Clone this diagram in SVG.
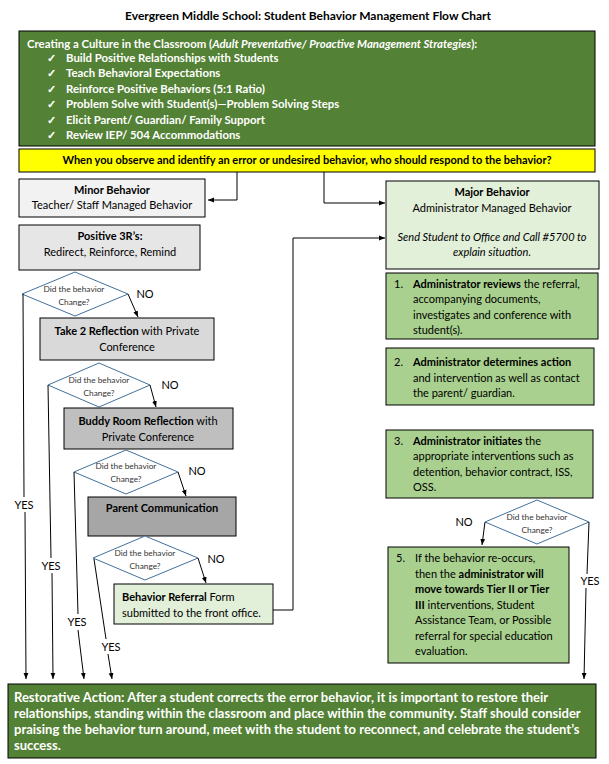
<svg xmlns="http://www.w3.org/2000/svg" width="609" height="764" viewBox="0 0 609 764">
<style>
text{font-family:Lato,"Liberation Sans",sans-serif;font-size:11px;fill:#000}
.b{font-weight:bold}
.w{fill:#fff;font-weight:bold}
.g{font-size:11.4px}
.r{font-size:13px}
.i{font-style:italic}
.c{text-anchor:middle}
.sm{font-size:8.3px;fill:#333}
.box{stroke:#000;stroke-width:1}
.dia{fill:#fff;stroke:#41719C;stroke-width:1}
.ln{fill:none;stroke:#000;stroke-width:1}
</style>
<defs>
<marker id="ah" viewBox="0 0 10 10" refX="10" refY="5" markerWidth="6" markerHeight="6" orient="auto"><path d="M0,1 L10,5 L0,9 z" fill="#000"/></marker>
</defs>
<rect width="609" height="764" fill="#fff"/>
<text id="title" class="b c" x="308" y="20" style="font-size:12px">Evergreen Middle School: Student Behavior Management Flow Chart</text>

<g id="culture">
<rect class="box" x="19" y="31" width="576" height="115" fill="#538135"/>
<text class="w g" x="27" y="48">Creating a Culture in the Classroom (<tspan class="i">Adult Preventative/ Proactive Management Strategies</tspan>):</text>
<text class="w g" x="47" y="62">✓</text><text class="w g" x="66" y="62">Build Positive Relationships with Students</text>
<text class="w g" x="47" y="77">✓</text><text class="w g" x="66" y="77">Teach Behavioral Expectations</text>
<text class="w g" x="47" y="93">✓</text><text class="w g" x="66" y="93">Reinforce Positive Behaviors (5:1 Ratio)</text>
<text class="w g" x="47" y="108">✓</text><text class="w g" x="66" y="108">Problem Solve with Student(s)—Problem Solving Steps</text>
<text class="w g" x="47" y="124">✓</text><text class="w g" x="66" y="124">Elicit Parent/ Guardian/ Family Support</text>
<text class="w g" x="47" y="139">✓</text><text class="w g" x="66" y="139">Review IEP/ 504 Accommodations</text>
</g>

<g id="question">
<rect class="box" x="19" y="149" width="576" height="23" fill="#FFFF00"/>
<text class="b c" x="307" y="164">When you observe and identify an error or undesired behavior, who should respond to the behavior?</text>
</g>

<g id="minor">
<rect class="box" x="19" y="179" width="186" height="38" fill="#F2F2F2"/>
<text class="b c" x="112" y="194">Minor Behavior</text>
<text class="c" x="112" y="209">Teacher/ Staff Managed Behavior</text>
</g>

<g id="positive3r">
<rect class="box" x="19" y="225" width="181" height="45" fill="#E7E6E6"/>
<text class="b c" x="110" y="240">Positive 3R’s:</text>
<text class="c" x="110" y="256">Redirect, Reinforce, Remind</text>
</g>

<g id="d1">
<polygon class="dia" points="75,272 128,294 75,316 22,294"/>
<text class="sm c" x="74" y="292">Did the behavior</text>
<text class="sm c" x="74" y="305">Change?</text>
</g>

<g id="take2">
<rect class="box" x="40" y="318" width="174" height="42" fill="#D9D9D9"/>
<text class="c" x="127" y="335"><tspan class="b">Take 2 Reflection</tspan> with Private</text>
<text class="c" x="127" y="351">Conference</text>
</g>

<g id="d2">
<polygon class="dia" points="99,363 150,385 99,407 48,385"/>
<text class="sm c" x="99" y="383">Did the behavior</text>
<text class="sm c" x="99" y="396">Change?</text>
</g>

<g id="buddy">
<rect class="box" x="64" y="408" width="169" height="41" fill="#BFBFBF"/>
<text class="c" x="148" y="425"><tspan class="b">Buddy Room Reflection</tspan> with</text>
<text class="c" x="148" y="441">Private Conference</text>
</g>

<g id="d3">
<polygon class="dia" points="126,450 178,472 126,494 74,472"/>
<text class="sm c" x="126" y="469">Did the behavior</text>
<text class="sm c" x="126" y="482">Change?</text>
</g>

<g id="parent">
<rect class="box" x="88" y="497" width="148" height="39" fill="#A6A6A6"/>
<text class="b c" x="162" y="512">Parent Communication</text>
</g>

<g id="d4">
<polygon class="dia" points="145,536 198,558 145,580 93,558"/>
<text class="sm c" x="145" y="556">Did the behavior</text>
<text class="sm c" x="145" y="569">Change?</text>
</g>

<g id="referral">
<rect class="box" x="114" y="584" width="159" height="40" fill="#E2EFD9"/>
<text x="122" y="601"><tspan class="b">Behavior Referral</tspan> Form</text>
<text x="122" y="617">submitted to the front office.</text>
</g>

<g id="major">
<rect class="box" x="386" y="181" width="213" height="88" fill="#E2EFD9"/>
<text class="b c" x="492" y="196">Major Behavior</text>
<text class="c" x="492" y="212">Administrator Managed Behavior</text>
<text class="i c" x="492" y="241">Send Student to Office and Call #5700 to</text>
<text class="i c" x="492" y="256">explain situation.</text>
</g>

<g id="step1">
<rect class="box" x="386" y="273" width="212" height="66" fill="#A9D08E"/>
<text x="394" y="288">1.</text>
<text x="413" y="288"><tspan class="b">Administrator reviews</tspan> the referral,</text>
<text x="413" y="303">accompanying documents,</text>
<text x="413" y="319">investigates and conference with</text>
<text x="413" y="334">student(s).</text>
</g>

<g id="step2">
<rect class="box" x="386" y="348" width="208" height="57" fill="#A9D08E"/>
<text x="394" y="366">2.</text>
<text x="413" y="366" class="b">Administrator determines action</text>
<text x="413" y="382">and intervention as well as contact</text>
<text x="413" y="397">the parent/ guardian.</text>
</g>

<g id="step3">
<rect class="box" x="386" y="430" width="207" height="68" fill="#A9D08E"/>
<text x="394" y="445">3.</text>
<text x="413" y="445"><tspan class="b">Administrator initiates</tspan> the</text>
<text x="413" y="460">appropriate interventions such as</text>
<text x="413" y="476">detention, behavior contract, ISS,</text>
<text x="413" y="491">OSS.</text>
</g>

<g id="d5">
<polygon class="dia" points="537,500 589,522 537,544 485,522"/>
<text class="sm c" x="537" y="520">Did the behavior</text>
<text class="sm c" x="537" y="533">Change?</text>
</g>

<g id="step5">
<rect class="box" x="388" y="547" width="181" height="116" fill="#A9D08E"/>
<text x="396" y="562">5.</text>
<text x="415" y="562">If the behavior re-occurs,</text>
<text x="415" y="578">then the <tspan class="b">administrator will</tspan></text>
<text x="415" y="593" class="b">move towards Tier II or Tier</text>
<text x="415" y="609"><tspan class="b">III</tspan> interventions, Student</text>
<text x="415" y="624">Assistance Team, or Possible</text>
<text x="415" y="640">referral for special education</text>
<text x="415" y="655">evaluation.</text>
</g>

<g id="restorative">
<rect class="box" x="8" y="684" width="588" height="74" fill="#538135"/>
<text class="w r" x="14" y="702">Restorative Action: After a student corrects the error behavior, it is important to restore their</text>
<text class="w r" x="14" y="718">relationships, standing within the classroom and place within the community. Staff should consider</text>
<text class="w r" x="14" y="734">praising the behavior turn around, meet with the student to reconnect, and celebrate the student’s</text>
<text class="w r" x="14" y="750">success.</text>
</g>

<g id="connectors">
<polyline class="ln" points="237,172 237,200 208,200" marker-end="url(#ah)"/>
<polyline class="ln" points="324,172 324,203 385,203" marker-end="url(#ah)"/>
<polyline class="ln" points="273,610 293,610 293,238 385,238" marker-end="url(#ah)"/>
<line class="ln" x1="128" y1="294" x2="138" y2="317" marker-end="url(#ah)"/>
<line class="ln" x1="150" y1="385" x2="156" y2="407" marker-end="url(#ah)"/>
<line class="ln" x1="178" y1="472" x2="186" y2="496" marker-end="url(#ah)"/>
<line class="ln" x1="198" y1="558" x2="206" y2="583" marker-end="url(#ah)"/>
<line class="ln" x1="485" y1="522" x2="482" y2="545" marker-end="url(#ah)"/>
<polyline class="ln" points="23,294 24,497"/><line class="ln" x1="25" y1="512" x2="26" y2="679" marker-end="url(#ah)"/>
<polyline class="ln" points="48,385 51,558"/><line class="ln" x1="52" y1="573" x2="53" y2="679" marker-end="url(#ah)"/>
<polyline class="ln" points="74,472 78,614"/><line class="ln" x1="78" y1="630" x2="84" y2="679" marker-end="url(#ah)"/>
<polyline class="ln" points="94,559 106,639"/><line class="ln" x1="108" y1="654" x2="112" y2="679" marker-end="url(#ah)"/>
<polyline class="ln" points="589,522 587,574"/><line class="ln" x1="586" y1="588" x2="584" y2="679" marker-end="url(#ah)"/>
<text class="c" x="145" y="298">NO</text>
<text class="c" x="170" y="389">NO</text>
<text class="c" x="197" y="475">NO</text>
<text class="c" x="216" y="563">NO</text>
<text class="c" x="464" y="526">NO</text>
<text class="c" x="24" y="509">YES</text>
<text class="c" x="51" y="570">YES</text>
<text class="c" x="77" y="626">YES</text>
<text class="c" x="111" y="651">YES</text>
<text class="c" x="590" y="585">YES</text>
</g>
</svg>
